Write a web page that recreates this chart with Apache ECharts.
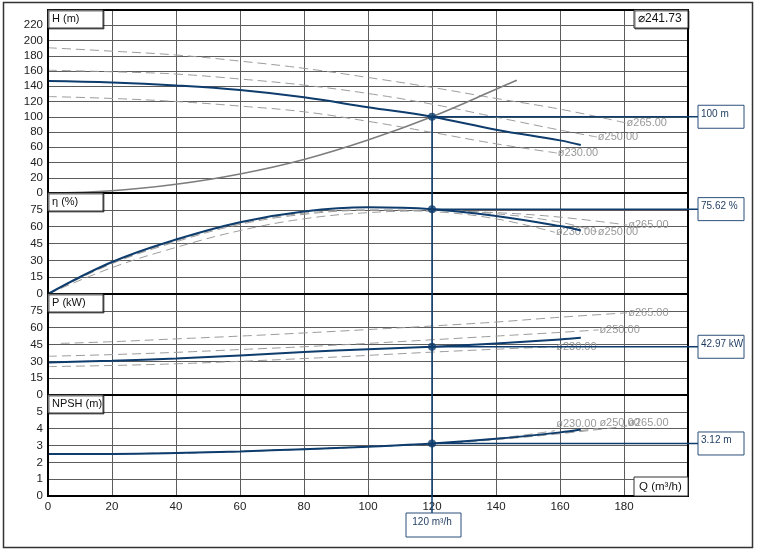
<!DOCTYPE html>
<html><head><meta charset="utf-8">
<script src="https://cdn.jsdelivr.net/npm/echarts@6/dist/echarts.min.js"></script>
<style>html,body{margin:0;padding:0;background:#fff}#c{width:758px;height:550px}</style>
</head><body><div id="c"></div>
<script>
const FONT = '"Liberation Sans", Arial, sans-serif';
const NAVY = '#0e3c6d';
const DASH = '#9c9c9c';

// X axis (Q, m³/h)
const qRange = [0, 200];
const qStep = 20;

// Panels
const panelNames = ['H (m)', 'η (%)', 'P (kW)', 'NPSH (m)'];
const panelMax = [240, 90, 90, 6];
const panelStep = [20, 15, 15, 1];

// Head (m)
const qH = [0, 20, 40, 60, 80, 100, 120, 140, 160, 166.5];
const hMain = [147, 145, 141, 135, 125.5, 112.5, 100, 83, 69, 63];
const qH265 = [0, 20, 40, 60, 80, 100, 120, 140, 160, 180.5];
const h265 = [190.5, 186, 181, 173, 163.5, 151.5, 138.5, 124, 110, 92];
const qH250 = [0, 20, 40, 60, 80, 100, 120, 140, 160, 171.5];
const h250 = [161, 159, 156, 149.5, 141.5, 130.5, 116.5, 99.5, 82.5, 73.5];
const qH230 = [0, 20, 40, 60, 80, 100, 120, 140, 159];
const h230 = [126.5, 124, 120, 114, 106.5, 94, 79.5, 64.5, 52.5];
const qSys = [0, 20, 40, 60, 80, 100, 120, 140, 146.5];
const hSys = [0, 3, 11.5, 25, 44, 69.5, 100, 136, 148];

// Efficiency (%)
const qE = [0, 20, 40, 60, 80, 100, 120, 140, 160, 166.5];
const eMain = [0, 28.5, 48.5, 64, 73.5, 77.2, 75.6, 69.5, 60.5, 56.5];
const qE265 = [0, 20, 40, 60, 80, 100, 120, 140, 160, 181];
const e265 = [0, 23.5, 41.5, 56.5, 67, 72.5, 74, 72.5, 68.5, 61.5];
const qE250 = [0, 20, 40, 60, 80, 100, 120, 140, 160, 171.5];
const e250 = [0, 27, 46.5, 62, 71, 74.5, 74.5, 71.5, 64, 55.5];
const qE230 = [0, 20, 40, 60, 80, 100, 120, 140, 158.4];
const e230 = [0, 27.5, 47.5, 63, 72, 75, 73.5, 67, 55];

// Power (kW)
const qP = [0, 20, 40, 60, 80, 100, 120, 140, 160, 166.5];
const pMain = [29, 30.5, 32.5, 35.3, 38.3, 40.8, 43, 46, 49.5, 51];
const qP265 = [4, 20, 40, 60, 80, 100, 120, 140, 160, 181];
const p265 = [46, 47.5, 50, 52.5, 55.3, 58.3, 61.5, 65, 69.3, 73.2];
const qP250 = [0, 20, 40, 60, 80, 100, 120, 140, 160, 172];
const p250 = [34.5, 36, 38, 40.5, 43, 46, 49.2, 52.5, 55.8, 58];
const qP230 = [0, 20, 40, 60, 80, 100, 120, 140, 158.5];
const p230 = [25.3, 26.3, 27.8, 30, 32.5, 35.3, 38.2, 40.8, 43];

// NPSH (m)
const qN = [0, 20, 40, 60, 80, 100, 120, 140, 160, 166.5];
const nMain = [2.5, 2.5, 2.55, 2.65, 2.78, 2.93, 3.12, 3.4, 3.78, 3.95];
const qN265 = [0, 40, 80, 100, 120, 140, 160, 181];
const n265 = [2.5, 2.55, 2.78, 2.93, 3.08, 3.35, 3.7, 4.15];
const qN250 = [0, 40, 80, 100, 120, 140, 160, 172];
const n250 = [2.5, 2.55, 2.78, 2.93, 3.1, 3.38, 3.74, 4.02];
const qN230 = [0, 40, 80, 100, 120, 140, 158.5];
const n230 = [2.5, 2.55, 2.78, 2.93, 3.12, 3.42, 3.88];

// Labels
const trimLabels = ['ø265.00', 'ø250.00', 'ø230.00'];
const mainDiameter = '⌀241.73';
const qAxisName = 'Q (m³/h)';

// Operating point
const opQ = 120;
const opValues = [100, 75.62, 42.97, 3.12];
const opLabels = ['100 m', '75.62 %', '42.97 kW', '3.12 m'];
const opQLabel = '120 m³/h';

const pairs = (q, v) => q.map((x, i) => [x, v[i]]);

const gridTops = [10, 193, 294, 395];
const gridHeights = [183, 101, 101, 101];
const grids = gridTops.map((t, i) => ({ left: 48, width: 640, top: t, height: gridHeights[i], show: false }));

const xAxes = grids.map((g, i) => ({
  type: 'value', gridIndex: i, min: qRange[0], max: qRange[1], interval: qStep,
  axisLine: { show: false }, axisTick: { show: false },
  splitLine: { show: true, lineStyle: { color: '#5c5c5c', width: 1 } },
  axisLabel: { show: i === 3, showMaxLabel: false, color: '#222', fontSize: 11.5, fontFamily: FONT, margin: 5 }
}));
const yAxes = grids.map((g, i) => ({
  type: 'value', gridIndex: i, min: 0, max: panelMax[i], interval: panelStep[i],
  axisLine: { show: false }, axisTick: { show: false },
  splitLine: { show: true, lineStyle: { color: '#5c5c5c', width: 1 } },
  axisLabel: { showMaxLabel: false, color: '#222', fontSize: 11.5, fontFamily: FONT, margin: 5, padding: [0, 0, 7, 0] }
}));

function mainLine(idx, q, v) {
  return { type: 'line', xAxisIndex: idx, yAxisIndex: idx, data: pairs(q, v), showSymbol: false, smooth: 0.4,
    lineStyle: { color: NAVY, width: 2 }, z: 5 };
}
function trimLine(idx, q, v, label, off) {
  return { type: 'line', xAxisIndex: idx, yAxisIndex: idx, data: pairs(q, v), showSymbol: false, smooth: 0.4,
    lineStyle: { color: DASH, width: 1, type: [9, 5] }, z: 3,
    endLabel: { show: true, formatter: label, color: '#999', fontSize: 11, fontFamily: FONT, distance: 1, offset: [0, off || 0] } };
}

const series = [
  trimLine(0, qH265, h265, trimLabels[0]),
  trimLine(0, qH250, h250, trimLabels[1]),
  trimLine(0, qH230, h230, trimLabels[2]),
  { type: 'line', xAxisIndex: 0, yAxisIndex: 0, data: pairs(qSys, hSys), showSymbol: false, smooth: 0.4,
    lineStyle: { color: '#7d7d7d', width: 1.6 }, z: 4 },
  mainLine(0, qH, hMain),
  trimLine(1, qE265, e265, trimLabels[0]),
  trimLine(1, qE250, e250, trimLabels[1]),
  trimLine(1, qE230, e230, trimLabels[2]),
  mainLine(1, qE, eMain),
  trimLine(2, qP265, p265, trimLabels[0]),
  trimLine(2, qP250, p250, trimLabels[1]),
  trimLine(2, qP230, p230, trimLabels[2]),
  mainLine(2, qP, pMain),
  trimLine(3, qN265, n265, trimLabels[0], -3),
  trimLine(3, qN250, n250, trimLabels[1], -5),
  trimLine(3, qN230, n230, trimLabels[2], -7),
  mainLine(3, qN, nMain)
];
opValues.forEach((v, i) => series.push({
  type: 'scatter', xAxisIndex: i, yAxisIndex: i, data: [[opQ, v]], symbolSize: 8,
  itemStyle: { color: NAVY }, z: 20, silent: true
}));

const chart = echarts.init(document.getElementById('c'), null, { renderer: 'canvas' });
chart.setOption({
  animation: false,
  backgroundColor: '#fff',
  textStyle: { fontFamily: FONT },
  grid: grids, xAxis: xAxes, yAxis: yAxes, series
});

// Annotations positioned through the chart's own scales
const els = [];
els.push({ type: 'rect', shape: { x: 3.5, y: 2.5, width: 749, height: 545 }, style: { fill: null, stroke: '#333', lineWidth: 1.5 }, z: 1 });
const gridBox = [];
for (let i = 0; i < 4; i++) {
  const tl = chart.convertToPixel({ gridIndex: i }, [qRange[0], panelMax[i]]);
  const br = chart.convertToPixel({ gridIndex: i }, [qRange[1], 0]);
  gridBox.push({ x0: tl[0], y0: tl[1], x1: br[0], y1: br[1] });
}
gridBox.forEach((b, i) => {
  els.push({ type: 'rect', shape: { x: b.x0, y: b.y0, width: b.x1 - b.x0, height: b.y1 - b.y0 }, style: { fill: null, stroke: '#000', lineWidth: 2 }, z: 12 });
  els.push({ type: 'rect', shape: { x: b.x0, y: b.y0, width: 55, height: 18 }, style: { fill: '#fff', stroke: '#333', lineWidth: 1, shadowColor: 'rgba(0,0,0,0.55)', shadowOffsetX: 1, shadowOffsetY: 1 }, z: 13 });
  els.push({ type: 'text', x: b.x0 + 4, y: b.y0 + 9, style: { text: panelNames[i], fill: '#111', fontSize: 11, fontFamily: FONT, verticalAlign: 'middle' }, z: 14 });
});
const b0 = gridBox[0];
els.push({ type: 'rect', shape: { x: b0.x1 - 54, y: b0.y0, width: 54, height: 18 }, style: { fill: '#fff', stroke: '#333', lineWidth: 1, shadowColor: 'rgba(0,0,0,0.55)', shadowOffsetX: 1, shadowOffsetY: 1 }, z: 13 });
els.push({ type: 'text', x: b0.x1 - 50, y: b0.y0 + 9, style: { text: mainDiameter, fill: '#111', fontSize: 12, fontFamily: FONT, verticalAlign: 'middle' }, z: 14 });
const b3 = gridBox[3];
els.push({ type: 'rect', shape: { x: b3.x1 - 54, y: b3.y1 - 19, width: 54, height: 19 }, style: { fill: '#fff', stroke: '#333', lineWidth: 1 }, z: 13 });
els.push({ type: 'text', x: b3.x1 - 49, y: b3.y1 - 9.5, style: { text: qAxisName, fill: '#111', fontSize: 11.5, fontFamily: FONT, verticalAlign: 'middle' }, z: 14 });

const opPx = opValues.map((v, i) => chart.convertToPixel({ gridIndex: i }, [opQ, v]));
const boxX = b0.x1 + 10;
const qBoxTop = b3.y1 + 17;
els.push({ type: 'line', shape: { x1: opPx[0][0], y1: opPx[0][1], x2: opPx[0][0], y2: qBoxTop }, style: { stroke: NAVY, lineWidth: 1.5 }, z: 15 });
opPx.forEach((p, i) => {
  els.push({ type: 'line', shape: { x1: p[0], y1: p[1], x2: boxX, y2: p[1] }, style: { stroke: NAVY, lineWidth: 1.5 }, z: 15 });
  els.push({ type: 'rect', shape: { x: boxX, y: p[1] - 11.5, width: 46, height: 23 }, style: { fill: '#fff', stroke: '#2b4f7a', lineWidth: 1 }, z: 16 });
  els.push({ type: 'text', x: boxX + 3, y: p[1] - 3, style: { text: opLabels[i], fill: '#1d3a5e', fontSize: 10, fontFamily: FONT, verticalAlign: 'middle' }, z: 17 });
});
els.push({ type: 'rect', shape: { x: opPx[0][0] - 26, y: qBoxTop, width: 55, height: 24 }, style: { fill: '#fff', stroke: '#2b4f7a', lineWidth: 1 }, z: 16 });
els.push({ type: 'text', x: opPx[0][0], y: qBoxTop + 9, style: { text: opQLabel, fill: '#1d3a5e', fontSize: 10, fontFamily: FONT, align: 'center', verticalAlign: 'middle' }, z: 17 });

chart.setOption({ graphic: { elements: els } });
</script>
</body></html>
